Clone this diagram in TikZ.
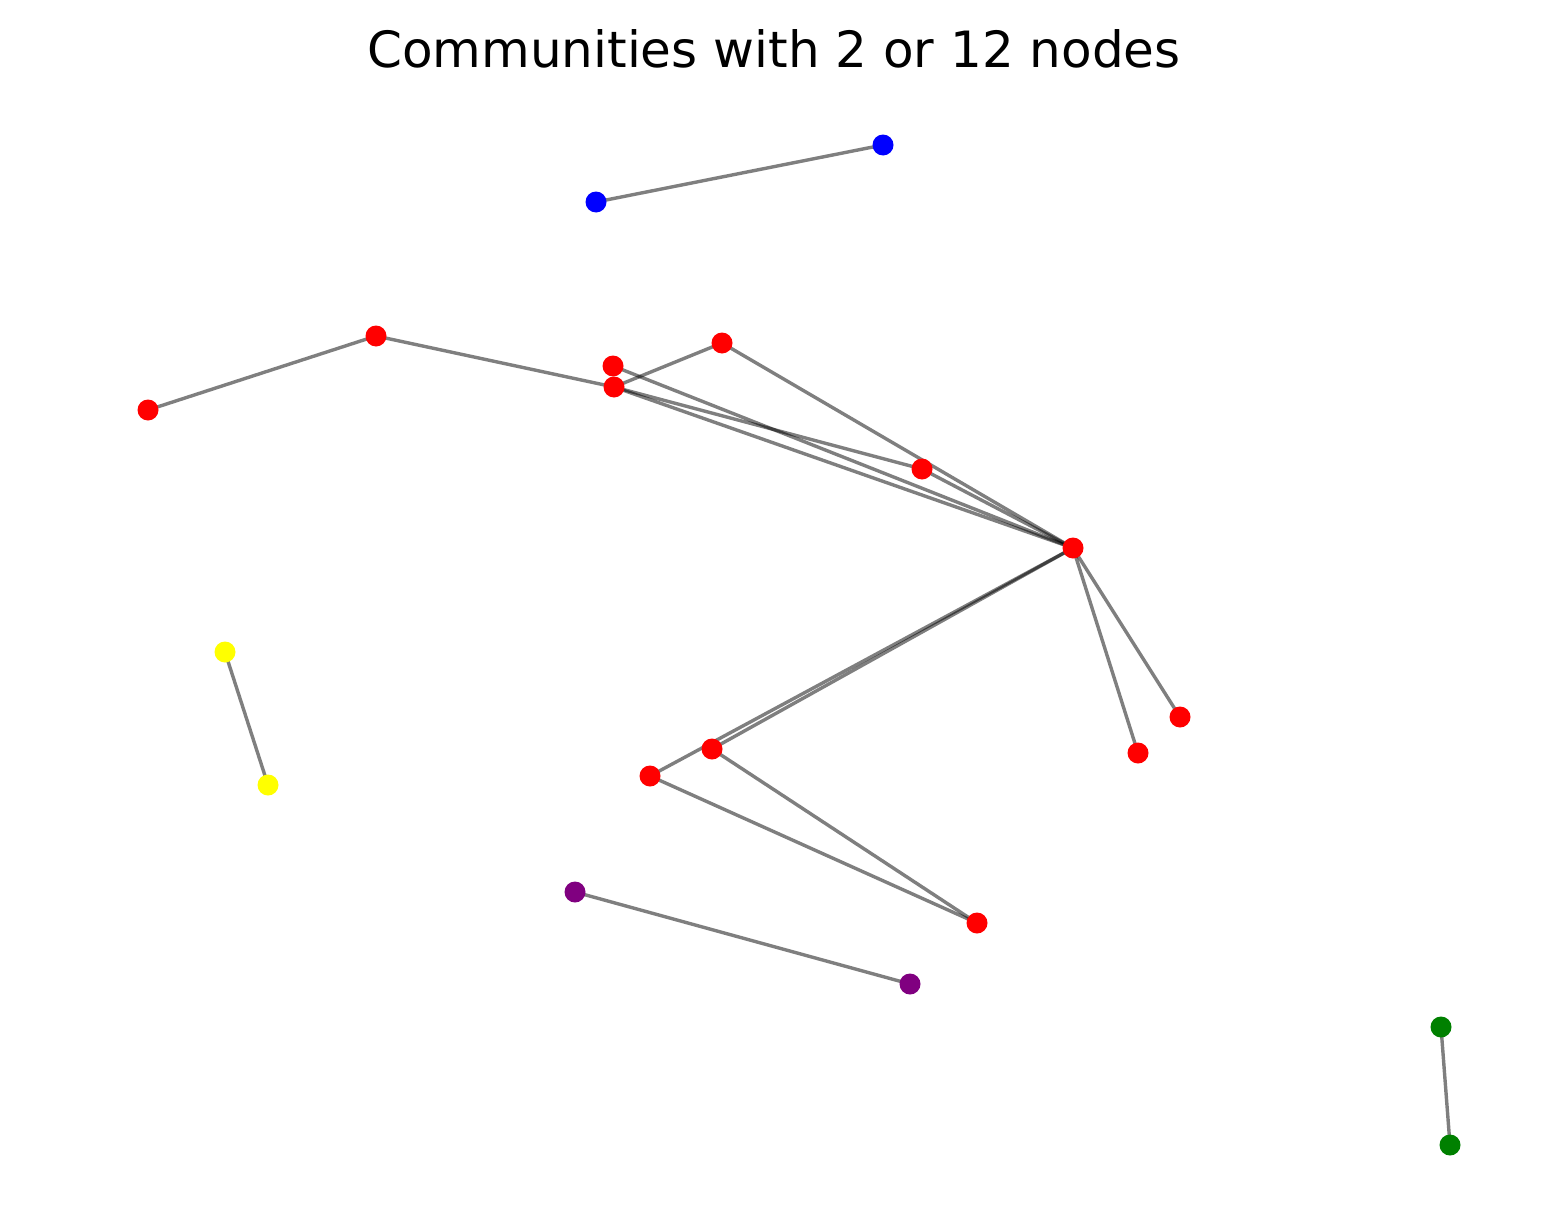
\documentclass[tikz,border=0pt]{standalone}
\usepackage{fontspec}
\setmainfont{DejaVu Sans}
\definecolor{mgreen}{RGB}{0,128,0}
\definecolor{mpurple}{RGB}{128,0,128}
\definecolor{myellow}{RGB}{255,255,0}
\definecolor{mblue}{RGB}{0,0,255}
\definecolor{mred}{RGB}{255,0,0}
\begin{document}
\begin{tikzpicture}[x=1pt,y=-1pt,
  vtx/.style={circle,inner sep=0pt,minimum size=21pt,draw=none},
  edge/.style={draw=black,draw opacity=0.5,line width=3.4pt}]
\useasboundingbox (0,0) rectangle (1548,1231);
\node[anchor=base,font=\fontsize{50}{60}\selectfont] (title) at (774,68) {Communities with 2 or 12 nodes};
% blue
\coordinate (b1) at (596,202); \coordinate (b2) at (883,145);
% red
\coordinate (A) at (148,410); \coordinate (B) at (376,336);
\coordinate (C) at (613,366); \coordinate (D) at (614,387);
\coordinate (E) at (722,343); \coordinate (F) at (922,469);
\coordinate (G) at (1073,548); \coordinate (H) at (1180,717);
\coordinate (I) at (1138,753); \coordinate (J) at (712,749);
\coordinate (K) at (650,776); \coordinate (L) at (977,923);
% yellow
\coordinate (y1) at (225,652); \coordinate (y2) at (268,785);
% purple
\coordinate (p1) at (575,892); \coordinate (p2) at (910,984);
% green
\coordinate (g1) at (1441,1027); \coordinate (g2) at (1450,1145);
% edges
\foreach \a/\b in {b1/b2,A/B,B/D,D/E,E/G,F/G,C/G,D/F,D/G,G/J,G/K,G/H,G/I,J/L,K/L,y1/y2,p1/p2,g1/g2}
  \draw[edge] (\a) -- (\b);
% vertices
\foreach \n in {b1,b2} \node[vtx,fill=mblue] (v\n) at (\n) {};
\foreach \n in {A,B,C,D,E,F,G,H,I,J,K,L} \node[vtx,fill=mred] (v\n) at (\n) {};
\foreach \n in {y1,y2} \node[vtx,fill=myellow] (v\n) at (\n) {};
\foreach \n in {p1,p2} \node[vtx,fill=mpurple] (v\n) at (\n) {};
\foreach \n in {g1,g2} \node[vtx,fill=mgreen] (v\n) at (\n) {};
\end{tikzpicture}
\end{document}
